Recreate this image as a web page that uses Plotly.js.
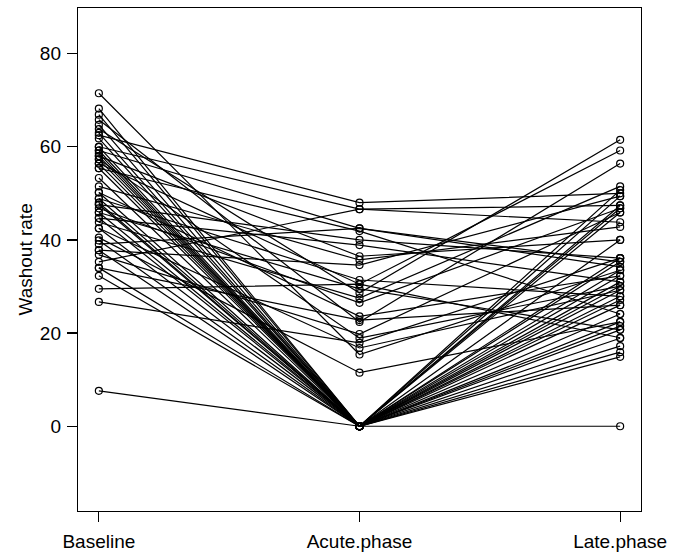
<!DOCTYPE html>
<html>
<head>
<meta charset="utf-8">
<script src="https://cdn.plot.ly/plotly-3.0.1.min.js"></script>
<style>html,body{margin:0;padding:0;background:#fff}#chart{width:682px;height:553px}</style>
</head>
<body>
<div id="chart"></div>
<script>
const categories = ["Baseline", "Acute.phase", "Late.phase"];
const yTicks = [0, 20, 40, 60, 80];

const baseline = [71.5, 65.8, 63.8, 62.5, 60.0, 59.2, 58.0, 56.4, 55.4, 51.5,
  50.2, 48.9, 47.6, 46.8, 45.9, 44.7, 43.8, 42.5, 39.1, 37.8,
  35.3, 34.0, 29.5, 26.7, 36.8, 40.5, 57.3,
  68.2, 66.9, 64.7, 63.0, 61.8, 60.0, 59.2, 58.6, 58.0, 57.3,
  56.4, 55.4, 53.3, 50.2, 48.9, 47.6, 45.9, 44.7, 42.5, 39.9,
  37.8, 34.0, 32.3, 7.6, 48.0];
const acute = [15.4, 22.4, 28.6, 48.0, 46.6, 42.5, 36.5, 30.5, 41.9, 35.7,
  23.6, 31.4, 40.0, 26.5, 29.5, 38.9, 27.5, 16.8, 42.5, 34.6,
  46.6, 22.8, 30.5, 17.9, 19.8, 11.5, 18.9,
  0, 0, 0, 0, 0, 0, 0, 0, 0, 0,
  0, 0, 0, 0, 0, 0, 0, 0, 0, 0,
  0, 0, 0, 0, 0];
const late = [33.5, 56.4, 61.5, 50.0, 47.4, 35.3, 40.0, 59.2, 24.1, 42.8,
  32.3, 27.9, 36.1, 46.8, 20.7, 31.0, 51.5, 29.2, 34.2, 49.4,
  43.8, 26.0, 19.0, 36.1, 45.9, 22.4, 30.1,
  50.7, 47.4, 29.2, 26.0, 21.5, 45.9, 31.0, 18.9, 27.1, 33.5,
  15.9, 24.1, 35.3, 22.4, 17.2, 20.7, 49.4, 30.1, 14.9, 27.9,
  40.0, 46.8, 32.3, 0, 36.1];

const xs = [], ys = [];
for (let i = 0; i < baseline.length; i++) {
  xs.push(1, 2, 3, null);
  ys.push(baseline[i], acute[i], late[i], null);
}

const font = {family: "Liberation Sans, Arial, sans-serif", size: 19, color: "#000"};

const trace = {
  x: xs, y: ys, type: "scatter", mode: "lines+markers",
  connectgaps: false,
  line: {color: "#000", width: 1.2},
  marker: {symbol: "circle-open", size: 7, color: "#000", line: {width: 1.2, color: "#000"}},
  hoverinfo: "skip"
};

const layout = {
  width: 682, height: 553,
  margin: {l: 78, r: 41, t: 8, b: 42},
  paper_bgcolor: "#fff", plot_bgcolor: "#fff",
  showlegend: false,
  font: font,
  xaxis: {
    range: [0.92, 3.08], tickmode: "array", tickvals: [1, 2, 3], ticktext: categories,
    showgrid: false, zeroline: false, showline: true, mirror: true,
    linecolor: "#000", linewidth: 1.2, ticks: "outside", ticklen: 10, tickcolor: "#000",
    tickwidth: 1.2, ticklabelstandoff: 3, tickfont: font
  },
  yaxis: {
    range: [-18.2, 89.8], tickmode: "array", tickvals: yTicks, ticktext: yTicks.map(String),
    showgrid: false, zeroline: false, showline: true, mirror: true,
    linecolor: "#000", linewidth: 1.2, ticks: "outside", ticklen: 10, tickcolor: "#000",
    tickwidth: 1.2, ticklabelstandoff: 2, tickfont: font
  },
  annotations: [{
    text: "Washout rate", font: font, textangle: -90, showarrow: false,
    xref: "paper", yref: "paper", x: -0.094, y: 0.5, xanchor: "center", yanchor: "middle"
  }]
};

Plotly.newPlot("chart", [trace], layout, {displayModeBar: false, staticPlot: true});
</script>
</body>
</html>
